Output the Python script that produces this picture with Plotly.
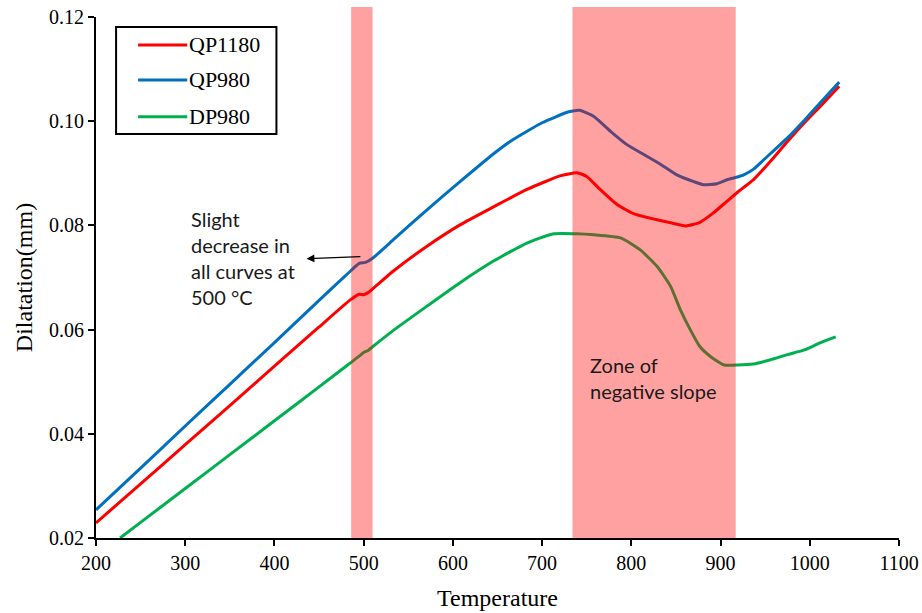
import plotly.graph_objects as go

# Dilatometry curves: temperature (°C) vs dilatation (mm)
qp1180_temp = [200, 250, 300, 350, 400, 450, 485, 495, 500, 505, 510, 533, 571, 608, 646,
               683, 720, 739, 750, 765, 784, 803, 821, 844, 861, 877, 892, 907, 920, 937,
               956, 975, 994, 1012, 1033]
qp1180_dil = [0.0229, 0.0304, 0.0379, 0.0454, 0.0530, 0.0605, 0.0657, 0.0668, 0.0667, 0.0671,
              0.0678, 0.0712, 0.0760, 0.0801, 0.0836, 0.0869, 0.0895, 0.0901, 0.0894, 0.0869,
              0.0840, 0.0822, 0.0814, 0.0805, 0.0799, 0.0806, 0.0824, 0.0846, 0.0865, 0.0888,
              0.0923, 0.0961, 0.0997, 0.1029, 0.1067]

qp980_temp = [200, 250, 300, 350, 400, 450, 485, 495, 502, 510, 533, 571, 608, 646, 665,
              700, 730, 742, 758, 777, 795, 814, 833, 851, 870, 881, 896, 908, 919, 926,
              937, 956, 975, 994, 1012, 1033]
qp980_dil = [0.0254, 0.0334, 0.0415, 0.0495, 0.0575, 0.0656, 0.0712, 0.0727, 0.0729, 0.0737,
             0.0772, 0.0830, 0.0884, 0.0938, 0.0962, 0.0997, 0.1018, 0.1021, 0.1009, 0.0980,
             0.0955, 0.0936, 0.0917, 0.0897, 0.0884, 0.0878, 0.0880, 0.0888, 0.0893, 0.0897,
             0.0908, 0.0938, 0.0968, 0.1002, 0.1036, 0.1075]

dp980_temp = [227, 250, 300, 350, 400, 450, 485, 495, 500, 505, 510, 533, 571, 608, 646,
              683, 713, 739, 758, 788, 810, 829, 844, 855, 866, 877, 889, 904, 919, 937,
              956, 975, 994, 1012, 1029]
dp980_dil = [0.0200, 0.0230, 0.0295, 0.0360, 0.0425, 0.0490, 0.0536, 0.0549, 0.0556, 0.0560,
             0.0567, 0.0598, 0.0645, 0.0690, 0.0732, 0.0766, 0.0784, 0.0784, 0.0782, 0.0776,
             0.0753, 0.0721, 0.0683, 0.0638, 0.0600, 0.0567, 0.0548, 0.0532, 0.0532, 0.0534,
             0.0542, 0.0552, 0.0561, 0.0575, 0.0586]

# Highlighted temperature bands (°C)
bands = [(486, 510), (734, 917)]

series = [
    ("QP1180", qp1180_temp, qp1180_dil, "#FF0000"),
    ("QP980", qp980_temp, qp980_dil, "#0070C0"),
    ("DP980", dp980_temp, dp980_dil, "#00B050"),
]

serif = "Liberation Serif, Times New Roman, serif"
sans = "Lato, Carlito, Calibri, sans-serif"

fig = go.Figure()
for name, t, d, color in series:
    fig.add_trace(go.Scatter(x=t, y=d, mode="lines", name=name, showlegend=False,
                             line=dict(color=color, width=3, shape="spline", smoothing=0.5)))

# translucent bands drawn over the curves
for x0, x1 in bands:
    fig.add_shape(type="rect", xref="x", yref="paper", x0=x0, x1=x1, y0=0, y1=1.019,
                  fillcolor="rgba(255,0,0,0.37)", line=dict(width=0), layer="above")

# boxed key in the upper-left corner
fig.add_shape(type="rect", xref="paper", yref="paper", x0=0.025, x1=0.2247,
              y0=0.7754, y1=0.9808, line=dict(color="black", width=2),
              fillcolor="white", layer="above")
key_rows = [0.9463, 0.8791, 0.8086]
for (name, _, _, color), ky in zip(series, key_rows):
    fig.add_shape(type="line", xref="paper", yref="paper", x0=0.0524, x1=0.1136,
                  y0=ky, y1=ky, line=dict(color=color, width=3), layer="above")
    fig.add_annotation(x=0.1136, y=ky, xref="paper", yref="paper", xanchor="left",
                       yanchor="middle", showarrow=False, text=name,
                       font=dict(family=serif, size=22, color="black"))

fig.add_annotation(x=304, y=0.0738, xref="x", yref="y", xanchor="left", yanchor="middle",
                   align="left", showarrow=False,
                   text="Slight<br>decrease in<br>all curves at<br>500 °C",
                   font=dict(family=sans, size=20, color="#1a1a1a"))
fig.add_annotation(x=436, y=0.0736, ax=498, ay=0.0740, xref="x", yref="y",
                   axref="x", ayref="y", text="", showarrow=True,
                   arrowhead=2, arrowsize=1.2, arrowwidth=1.3, arrowcolor="black")
fig.add_annotation(x=751, y=0.0508, xref="x", yref="y", xanchor="left", yanchor="middle",
                   align="left", showarrow=False,
                   text="Zone of<br>negative slope",
                   font=dict(family=sans, size=20, color="#1a1a1a"))

fig.update_layout(
    width=922, height=613,
    margin=dict(l=96, r=23, t=17, b=75),
    paper_bgcolor="white", plot_bgcolor="white",
    font=dict(family=serif, color="black", size=20),
    showlegend=False,
    xaxis=dict(range=[200, 1100], dtick=100, tick0=200, showgrid=False, zeroline=False,
               showline=True, linecolor="black", linewidth=2, automargin=False,
               ticks="outside", ticklen=6, tickwidth=2, tickcolor="black",
               tickfont=dict(family=serif, size=20),
               title=dict(text="Temperature", font=dict(family=serif, size=24), standoff=16)),
    yaxis=dict(range=[0.02, 0.12], dtick=0.02, tick0=0.02, tickformat=".2f",
               showgrid=False, zeroline=False, automargin=False,
               showline=True, linecolor="black", linewidth=2,
               ticks="outside", ticklen=6, tickwidth=2, tickcolor="black",
               tickfont=dict(family=serif, size=20),
               title=dict(text="Dilatation(mm)", font=dict(family=serif, size=24), standoff=10)),
)

fig.write_html("out.html")
